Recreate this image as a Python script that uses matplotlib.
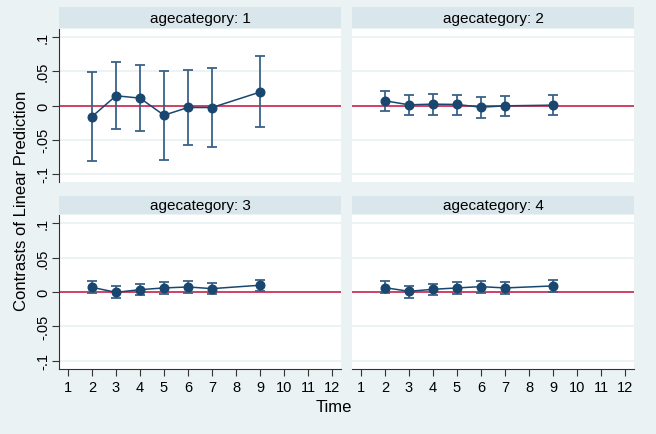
import matplotlib
matplotlib.use("Agg")
import matplotlib.pyplot as plt
import numpy as np

plt.rcParams['font.family'] = ['Liberation Sans', 'DejaVu Sans']

time = [2, 3, 4, 5, 6, 7, 9]
cat_labels = ["agecategory: 1", "agecategory: 2", "agecategory: 3", "agecategory: 4"]

est1 = [-0.0162, 0.0142, 0.0108, -0.0142, -0.0029, -0.0030, 0.0196]
lo1 = [-0.0810, -0.0338, -0.0373, -0.0790, -0.0578, -0.0608, -0.0319]
hi1 = [0.0495, 0.0637, 0.0588, 0.0510, 0.0525, 0.0550, 0.0716]

est2 = [0.0069, 0.0010, 0.0020, 0.0015, -0.0025, -0.0005, 0.0005]
lo2 = [-0.0083, -0.0142, -0.0132, -0.0137, -0.0180, -0.0150, -0.0132]
hi2 = [0.0216, 0.0157, 0.0172, 0.0157, 0.0123, 0.0142, 0.0147]

est3 = [0.0068, -0.0005, 0.0034, 0.0059, 0.0073, 0.0049, 0.0098]
lo3 = [-0.0015, -0.0093, -0.0050, -0.0024, -0.0015, -0.0034, 0.0015]
hi3 = [0.0160, 0.0083, 0.0122, 0.0146, 0.0156, 0.0132, 0.0180]

est4 = [0.0063, 0.0010, 0.0039, 0.0059, 0.0078, 0.0059, 0.0088]
lo4 = [-0.0020, -0.0083, -0.0050, -0.0029, -0.0010, -0.0029, 0.0000]
hi4 = [0.0156, 0.0093, 0.0117, 0.0141, 0.0160, 0.0141, 0.0171]

xticks = list(range(1, 13))
yticks = [-0.1, -0.05, 0, 0.05, 0.1]
ytick_labels = ["-.1", "-.05", "0", ".05", ".1"]

BG = "#EAF2F3"
STRIP = "#D9E6EB"
NAVY = "#1A476F"
CI = "#3A6287"
RED = "#C8103E"

W, H = 656, 435
fig = plt.figure(figsize=(W / 100, H / 100), dpi=100, facecolor=BG)

def fx(px):
    return px / W

def fy(py):
    return 1 - py / H

lefts = [59, 352]
pw = 282
rows = [(8, 29, 30, 183), (197, 215, 216, 370)]
data = [(est1, lo1, hi1), (est2, lo2, hi2), (est3, lo3, hi3), (est4, lo4, hi4)]

for i in range(4):
    r, c = divmod(i, 2)
    st, sb, pt, pb = rows[r]
    L = lefts[c]
    # strip
    sax = fig.add_axes([fx(L), fy(sb), fx(pw), (sb - st) / H])
    sax.set_facecolor(STRIP)
    sax.set_xticks([]); sax.set_yticks([])
    for s in sax.spines.values():
        s.set_visible(False)
    sax.text(0.5, 0.5, cat_labels[i], ha="center", va="center", fontsize=11, color="black",
             transform=sax.transAxes)
    # plot
    ax = fig.add_axes([fx(L), fy(pb), fx(pw), (pb - pt) / H])
    ax.set_facecolor("white")
    ax.set_xlim(0.625, 12.375)
    ax.set_ylim(-0.1117, 0.1117)
    for yv in yticks:
        ax.axhline(yv, color=BG, lw=1.3, zorder=0)
    ax.axhline(0, color=RED, lw=1.1, zorder=1)
    est, lo, hi = data[i]
    est = np.array(est); lo = np.array(lo); hi = np.array(hi)
    ax.errorbar(time, est, yerr=[est - lo, hi - est], fmt="none", ecolor=CI,
                elinewidth=1.3, capsize=3.3, capthick=1.3, zorder=2)
    ax.plot(time, est, color=NAVY, lw=1.1, marker="o", markersize=6.2,
            markerfacecolor=NAVY, markeredgecolor=NAVY, zorder=3)
    for s in ["top", "right"]:
        ax.spines[s].set_visible(False)
    ax.spines["left"].set_visible(c == 0)
    ax.spines["bottom"].set_visible(r == 1)
    ax.spines["left"].set_color("#333333")
    ax.spines["bottom"].set_color("#333333")
    if c == 0:
        ax.set_yticks(yticks)
        ax.set_yticklabels(ytick_labels, rotation=90, va="center", fontsize=10.5)
        ax.tick_params(axis="y", length=5, color="#333333", pad=1.5)
    else:
        ax.set_yticks([])
    if r == 1:
        ax.set_xticks(xticks)
        ax.set_xticklabels([str(v) for v in xticks], fontsize=10.5)
        ax.tick_params(axis="x", length=5, color="#333333", pad=3)
    else:
        ax.set_xticks([])

fig.text(fx(334), fy(408), "Time", ha="center", va="center", fontsize=12)
fig.text(fx(22), fy(201), "Contrasts of Linear Prediction", ha="center", va="center",
         rotation=90, fontsize=12)

fig.savefig("out.png", dpi=100, facecolor=BG)
